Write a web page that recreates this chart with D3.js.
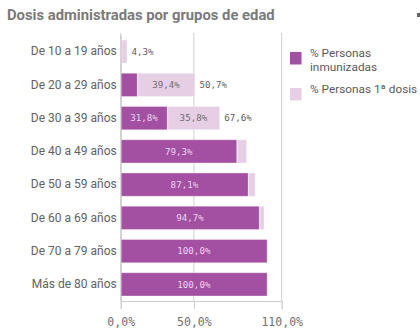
<!DOCTYPE html>
<html>
<head>
<meta charset="utf-8">
<script src="https://cdn.jsdelivr.net/npm/d3@7"></script>
<style>
  html, body { margin: 0; padding: 0; background: #fff; }
  svg { display: block; }
</style>
</head>
<body>
<svg id="chart" width="420" height="335"></svg>
<script>
// Age groups and vaccination coverage (%)
const categories = ["De 10 a 19 años", "De 20 a 29 años", "De 30 a 39 años", "De 40 a 49 años",
                    "De 50 a 59 años", "De 60 a 69 años", "De 70 a 79 años", "Más de 80 años"];
const inmunizadas = [0.6, 11.3, 31.8, 79.3, 87.1, 94.7, 100.0, 100.0];
const primeraDosis = [3.7, 39.4, 35.8, 6.7, 4.8, 3.3, 0.0, 0.0];
const seriesNames = ["% Personas inmunizadas", "% Personas 1ª dosis"];
const xTicks = [0, 50, 110];
const title = "Dosis administradas por grupos de edad";

const colors = ["#a34fa2", "#e6cfe5"];
const labelColors = ["#ecd6ec", "#6e6e6e"];
const numFont = "'DejaVu Sans Mono', monospace";
const textFont = "Roboto, 'Noto Sans', sans-serif";

const svg = d3.select("#chart");
const fmt = v => d3.format(".1f")(v).replace(".", ",") + "%";

const plot = { left: 120.7, right: 281.7, top: 35, bottom: 301 };

const x = d3.scaleLinear().domain([0, 110]).range([plot.left, plot.right]);
const y = d3.scaleBand().domain(categories).range([plot.top, plot.bottom]).paddingInner(0.3).paddingOuter(0.15);

// title
svg.append("text")
  .attr("x", 7).attr("y", 20)
  .attr("font-family", textFont).attr("font-weight", "bold")
  .attr("font-size", 14.8).attr("fill", "#7a7a7a")
  .text(title);

// small toolbar glyph at the top-right corner
svg.append("rect").attr("x", 417).attr("y", 13).attr("width", 3).attr("height", 4).attr("fill", "#666");

// vertical grid lines
svg.append("g").selectAll("line").data(xTicks).join("line")
  .attr("x1", d => x(d)).attr("x2", d => x(d))
  .attr("y1", 33).attr("y2", plot.bottom)
  .attr("stroke", "#cfcfcf").attr("stroke-width", 1);

// x axis
const xAxis = d3.axisBottom(x).tickValues(xTicks).tickFormat(fmt).tickSize(8).tickPadding(9);
const gx = svg.append("g").attr("transform", `translate(0,${plot.bottom})`).call(xAxis);
gx.select(".domain").attr("stroke", "#cfcfcf");
gx.selectAll(".tick line").attr("stroke", "#cfcfcf");
gx.selectAll(".tick text")
  .attr("font-family", numFont).attr("font-size", 11.5).attr("fill", "#707070");

// y axis labels
const yAxis = d3.axisLeft(y).tickSize(0).tickPadding(4);
const gy = svg.append("g").attr("transform", `translate(${plot.left},0)`).call(yAxis);
gy.select(".domain").attr("stroke", "#c4c4c4");
gy.selectAll(".tick text")
  .attr("font-family", textFont).attr("font-size", 12).attr("fill", "#626262");

// stacked bars
const rows = categories.map((c, i) => ({ cat: c, vals: [inmunizadas[i], primeraDosis[i]] }));
const segs = [];
rows.forEach(r => {
  let acc = 0;
  r.vals.forEach((v, k) => {
    segs.push({ cat: r.cat, k, v, x0: acc, x1: acc + v });
    acc += v;
  });
  r.total = acc;
});

svg.append("g").selectAll("rect").data(segs.filter(s => s.v > 0)).join("rect")
  .attr("x", d => x(d.x0) + 0.5)
  .attr("y", d => y(d.cat))
  .attr("width", d => Math.max(0, x(d.x1) - x(d.x0) - 0.5))
  .attr("height", y.bandwidth())
  .attr("fill", d => colors[d.k])
  .attr("stroke", "#ffffff").attr("stroke-opacity", 0.35).attr("stroke-width", 1);

// helper to measure text width
const meas = svg.append("text").attr("font-family", numFont).attr("font-size", 9.2).attr("visibility", "hidden");
const tw = s => { meas.text(s); return meas.node().getComputedTextLength(); };

// labels inside segments where they fit
const lbl = svg.append("g");
segs.forEach(s => {
  const w = x(s.x1) - x(s.x0);
  const t = fmt(s.v);
  if (s.v > 0 && tw(t) + 8 < w) {
    lbl.append("text")
      .attr("x", (x(s.x0) + x(s.x1)) / 2).attr("y", y(s.cat) + y.bandwidth() / 2)
      .attr("dy", "0.35em").attr("text-anchor", "middle")
      .attr("font-family", numFont).attr("font-size", 9.2)
      .attr("fill", labelColors[s.k]).text(t);
  }
});

// total labels beyond the bar end where room allows
rows.forEach(r => {
  const t = fmt(r.total);
  const xs = x(r.total) + 4.5;
  if (r.total < 100 && xs + tw(t) + 6 <= plot.right) {
    lbl.append("text")
      .attr("x", xs).attr("y", y(r.cat) + y.bandwidth() / 2)
      .attr("dy", "0.35em")
      .attr("font-family", numFont).attr("font-size", 9.2)
      .attr("fill", "#5e5e5e").text(t);
  }
});

// legend
const legend = svg.append("g");
const legendItems = [
  { lines: ["% Personas", "inmunizadas"], y: 52, c: colors[0] },
  { lines: ["% Personas 1ª dosis"], y: 88, c: colors[1] }
];
legendItems.forEach(it => {
  legend.append("rect").attr("x", 290).attr("y", it.y).attr("width", 11.5).attr("height", 12.5).attr("fill", it.c);
  it.lines.forEach((ln, j) => {
    legend.append("text")
      .attr("x", 310).attr("y", it.y + 4.5 + j * 14.3)
      .attr("font-family", textFont).attr("font-size", 11.8).attr("fill", "#5a5a5a")
      .text(ln);
  });
});
</script>
</body>
</html>
